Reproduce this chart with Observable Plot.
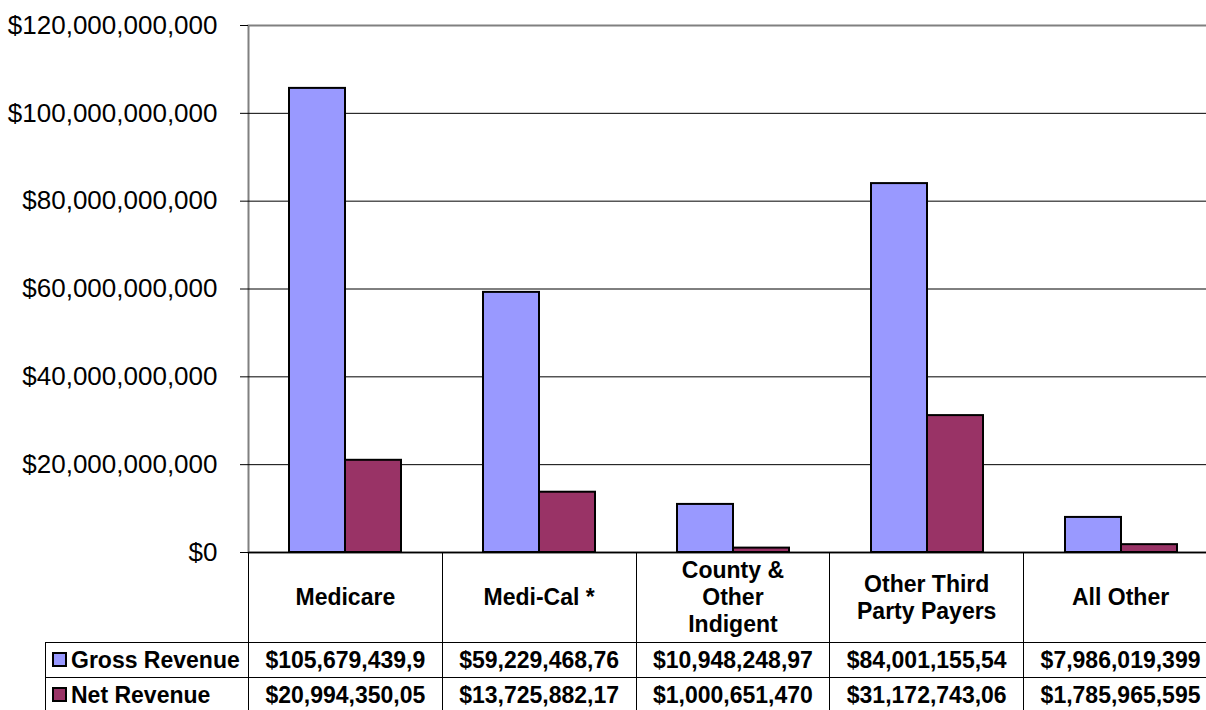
<!DOCTYPE html>
<html><head><meta charset="utf-8">
<script src="https://cdn.jsdelivr.net/npm/d3@7"></script>
<script src="https://cdn.jsdelivr.net/npm/@observablehq/plot@0.6"></script>
<style>
html,body{margin:0;padding:0;overflow:hidden;background:#fff;width:1206px;height:710px}
#wrap{position:relative;width:1218px;height:710px}
#wrap svg{display:block;overflow:visible}
table{position:absolute;left:45px;top:552px;border-collapse:collapse;table-layout:fixed;
 font-family:"Liberation Sans",Arial,sans-serif;font-weight:bold;font-size:23px;color:#000}
td{border:1px solid #000;padding:0;text-align:center;white-space:pre-line;overflow:hidden;line-height:27px}
td.legend{text-align:left;padding-left:6px;white-space:nowrap}
td.blank{border:none;border-right:1px solid #000}
.sw{display:inline-block;width:11px;height:11px;border:2px solid #000;margin-right:4px;vertical-align:1px}
</style>
</head><body><div id="wrap"></div>
<script>
const categories = ["Medicare", "Medi-Cal *", "County & Other Indigent", "Other Third Party Payers", "All Other"];
const headerLabels = ["Medicare", "Medi-Cal *", "County &\nOther\nIndigent", "Other Third\nParty Payers", "All Other"];
const series = ["Gross Revenue", "Net Revenue"];
const grossRevenue = [105679439900, 59229468760, 10948248970, 84001155540, 7986019399];
const netRevenue = [20994350050, 13725882170, 1000651470, 31172743060, 1785965595];
const colors = ["#9999FF", "#993366"];
const yTicks = [0, 20e9, 40e9, 60e9, 80e9, 100e9, 120e9];

const gross = categories.map((c, i) => ({cat: c, v: grossRevenue[i]}));
const net = categories.map((c, i) => ({cat: c, v: netRevenue[i]}));
const money = d => "$" + d3.format(",")(d);

const chart = Plot.plot({
  width: 1218, height: 553,
  marginLeft: 248, marginRight: 0, marginTop: 25, marginBottom: 1,
  style: {fontFamily: "Liberation Sans, Arial, sans-serif", fontSize: "26px", background: "transparent", overflow: "visible"},
  x: {domain: categories, paddingInner: 0, paddingOuter: 0, round: false, axis: null},
  y: {domain: [0, 120e9], axis: null},
  marks: [
    Plot.frame({stroke: "#808080", strokeWidth: 2}),
    Plot.ruleY(yTicks.slice(1, -1), {stroke: "#000", strokeWidth: 1}),
    Plot.axisY({ticks: yTicks, tickFormat: money, tickSize: 8, tickPadding: 23, fontSize: 26, stroke: "#000", label: null}),
    Plot.barY(gross, {x: "cat", y: "v", fill: colors[0], stroke: "#000", strokeWidth: 2, insetLeft: 41, insetRight: 97}),
    Plot.barY(net, {x: "cat", y: "v", fill: colors[1], stroke: "#000", strokeWidth: 2, insetLeft: 97, insetRight: 41}),
    Plot.ruleY([0], {stroke: "#000", strokeWidth: 1.5})
  ]
});
const wrap = document.getElementById("wrap");
wrap.appendChild(chart);

const bw = chart.scale("x").bandwidth;
const table = d3.select(wrap).append("table");
const cg = table.append("colgroup");
cg.append("col").style("width", "203px");
categories.forEach(() => cg.append("col").style("width", bw + "px"));
const hr = table.append("tr").style("height", "90px");
hr.append("td").attr("class", "blank");
headerLabels.forEach(l => hr.append("td").text(l));
[grossRevenue, netRevenue].forEach((vals, si) => {
  const tr = table.append("tr").style("height", "35px");
  const lc = tr.append("td").attr("class", "legend");
  lc.append("span").attr("class", "sw").style("background", colors[si]);
  lc.append("span").text(series[si]);
  vals.forEach(v => tr.append("td").text(money(v).slice(0, 14)));
});
</script>
</body></html>
